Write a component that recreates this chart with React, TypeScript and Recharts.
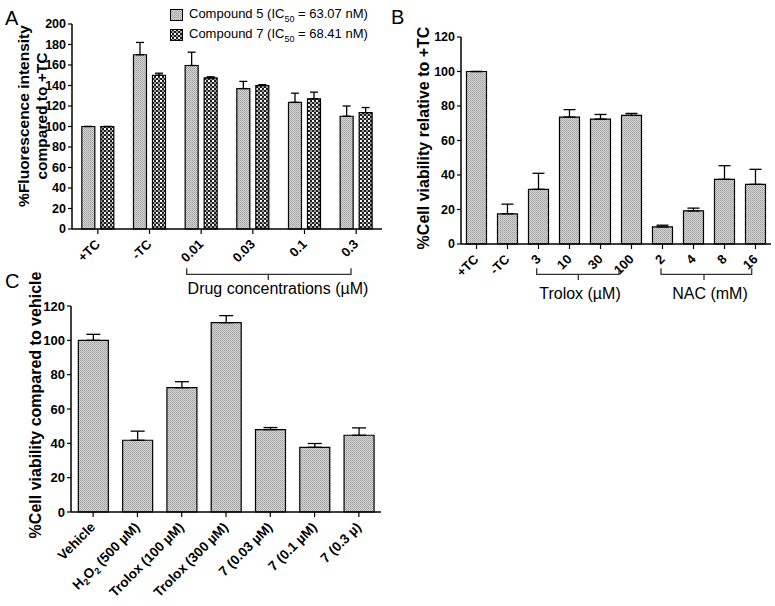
import React from 'react';
import { BarChart, Bar, XAxis, YAxis, ErrorBar, Legend } from 'recharts';

const FONT = '"Liberation Sans", Arial, Helvetica, sans-serif';

// Panel A
const fluorCategories = ['+TC', '-TC', '0.01', '0.03', '0.1', '0.3'];
const compound5Values = [100, 170, 159.5, 137, 123.5, 110];
const compound5Errors = [0, 12, 13, 7, 9, 10];
const compound7Values = [100, 150, 147.5, 140, 127, 113.5];
const compound7Errors = [0, 2, 1, 0.8, 6.5, 5];
const fluorTicks = [0, 20, 40, 60, 80, 100, 120, 140, 160, 180, 200];

// Panel B
const viabilityCategories = ['+TC', '-TC', '3', '10', '30', '100', '2', '4', '8', '16'];
const viabilityValues = [100, 17.5, 31.7, 73.6, 72.4, 74.6, 9.9, 19.2, 37.5, 34.6];
const viabilityErrors = [0, 5.6, 9.3, 4.3, 2.7, 1.1, 1, 1.6, 7.9, 8.7];
const viabilityTicks = [0, 20, 40, 60, 80, 100, 120];

// Panel C
const vehicleCategories = ['Vehicle', 'H2O2 (500 µM)', 'Trolox (100 µM)', 'Trolox (300 µM)', '7 (0.03 µM)', '7 (0.1 µM)', '7 (0.3 µ)'];
const vehicleValues = [100, 41.8, 72.4, 110.3, 48, 37.7, 44.7];
const vehicleErrors = [3.5, 5.3, 3.5, 4.1, 1.2, 2.2, 4.3];
const vehicleTicks = [0, 20, 40, 60, 80, 100, 120];

const fluorData = fluorCategories.map((name, i) => ({
  name,
  c5: compound5Values[i],
  c5err: [0, compound5Errors[i]],
  c7: compound7Values[i],
  c7err: [0, compound7Errors[i]],
}));

const viabilityData = viabilityCategories.map((name, i) => ({
  name,
  value: viabilityValues[i],
  err: [0, viabilityErrors[i]],
}));

const vehicleData = vehicleCategories.map((name, i) => ({
  name,
  value: vehicleValues[i],
  err: [0, vehicleErrors[i]],
}));

const tickStyle = { fontSize: 12.5, fontWeight: 'bold' as const, fill: '#000', fontFamily: FONT };
const axisLine = { stroke: '#000', strokeWidth: 1.5 };
const tickLine = { stroke: '#000', strokeWidth: 1.2 };

const Patterns = ({ id }: { id: string }) => (
  <defs>
    <pattern id={`light-${id}`} width={2} height={2} patternUnits="userSpaceOnUse">
      <rect width={2} height={2} fill="#d4d4d4" />
      <rect x={0} y={0} width={1} height={1} fill="#a0a0a0" />
      <rect x={1} y={1} width={1} height={1} fill="#b0b0b0" />
    </pattern>
    <pattern id={`check-${id}`} width={4} height={4} patternUnits="userSpaceOnUse">
      <rect width={4} height={4} fill="#1e1e1e" />
      <rect x={0} y={0} width={2} height={2} fill="#f2f2f2" />
      <rect x={2} y={2} width={2} height={2} fill="#9a9a9a" />
    </pattern>
  </defs>
);

const makeTick = (fontSize: number) => (props: any) => {
  const { x, y, payload } = props;
  const label = String(payload.value);
  const isPeroxide = label.startsWith('H2O2');
  const sub = Math.round(fontSize * 0.7);
  return (
    <g transform={`translate(${x + 3},${y + 9})`}>
      <text textAnchor="end" transform="rotate(-45)" {...tickStyle} fontSize={fontSize}>
        {isPeroxide ? (
          <>
            H<tspan dy={3} fontSize={sub}>2</tspan>
            <tspan dy={-3}>O</tspan>
            <tspan dy={3} fontSize={sub}>2</tspan>
            <tspan dy={-3}>{label.slice(4)}</tspan>
          </>
        ) : (
          label
        )}
      </text>
    </g>
  );
};

const TickAB = makeTick(13);
const TickC = makeTick(13.5);

const legendItems = [
  { label: 'Compound 5', ic: '63.07', fill: 'url(#light-a)' },
  { label: 'Compound 7', ic: '68.41', fill: 'url(#check-a)' },
];

const renderFluorLegend = () => (
  <div style={{ fontFamily: FONT, fontSize: 13, color: '#000' }}>
    {legendItems.map((item) => (
      <div key={item.label} style={{ display: 'flex', alignItems: 'center', height: 20 }}>
        <svg width={13} height={12} style={{ marginRight: 6 }}>
          <rect x={0.5} y={0.5} width={12} height={11} fill={item.fill} stroke="#000" strokeWidth={1} />
        </svg>
        <span>
          {item.label} (IC<sub style={{ fontSize: 9 }}>50</sub> = {item.ic} nM)
        </span>
      </div>
    ))}
  </div>
);

const PanelA = () => (
  <BarChart
    width={390}
    height={300}
    data={fluorData}
    margin={{ top: 24, right: 8, bottom: 31, left: 0 }}
    barCategoryGap="19%"
    barGap={6}
  >
    <Patterns id="a" />
    <XAxis dataKey="name" height={40} interval={0} axisLine={axisLine} tickLine={tickLine} tickSize={5} tickMargin={2} tick={<TickAB />} />
    <YAxis width={72} domain={[0, 200]} ticks={fluorTicks} interval={0} axisLine={axisLine} tickLine={tickLine} tickSize={4} tickMargin={2} tick={tickStyle} />
    <Legend
      layout="vertical"
      align="center"
      verticalAlign="middle"
      content={renderFluorLegend}
      wrapperStyle={{ top: 5, left: 170, width: 215 }}
    />
    <Bar dataKey="c5" fill="url(#light-a)" stroke="#000" strokeWidth={1.2} isAnimationActive={false}>
      <ErrorBar dataKey="c5err" width={4} stroke="#000" strokeWidth={1.3} direction="y" />
    </Bar>
    <Bar dataKey="c7" fill="url(#check-a)" stroke="#000" strokeWidth={1.2} isAnimationActive={false}>
      <ErrorBar dataKey="c7err" width={4} stroke="#000" strokeWidth={1.3} direction="y" />
    </Bar>
  </BarChart>
);

const PanelB = () => (
  <BarChart
    width={385}
    height={300}
    data={viabilityData}
    margin={{ top: 37, right: 4, bottom: 16, left: 0 }}
    barCategoryGap="17.7%"
  >
    <Patterns id="b" />
    <XAxis dataKey="name" height={40} interval={0} axisLine={axisLine} tickLine={tickLine} tickSize={5} tickMargin={2} tick={<TickAB />} />
    <YAxis width={71} domain={[0, 120]} ticks={viabilityTicks} interval={0} axisLine={axisLine} tickLine={tickLine} tickSize={4} tickMargin={2} tick={tickStyle} />
    <Bar dataKey="value" fill="url(#light-b)" stroke="#000" strokeWidth={1.2} isAnimationActive={false}>
      <ErrorBar dataKey="err" width={6} stroke="#000" strokeWidth={1.3} direction="y" />
    </Bar>
  </BarChart>
);

const PanelC = () => (
  <BarChart
    width={400}
    height={316}
    data={vehicleData}
    margin={{ top: 16, right: 19, bottom: 34, left: 0 }}
    barCategoryGap="16.6%"
  >
    <Patterns id="c" />
    <XAxis dataKey="name" height={60} interval={0} axisLine={axisLine} tickLine={tickLine} tickSize={5} tickMargin={2} tick={<TickC />} />
    <YAxis width={71} domain={[0, 120]} ticks={vehicleTicks} interval={0} axisLine={axisLine} tickLine={tickLine} tickSize={4} tickMargin={2} tick={{ ...tickStyle, fontSize: 13 }} />
    <Bar dataKey="value" fill="url(#light-c)" stroke="#000" strokeWidth={1.2} isAnimationActive={false}>
      <ErrorBar dataKey="err" width={7} stroke="#000" strokeWidth={1.3} direction="y" />
    </Bar>
  </BarChart>
);

const bracketStroke = { stroke: '#333', strokeWidth: 1.3, fill: 'none' };

const Annotations = () => (
  <svg width={775} height={606} style={{ position: 'absolute', left: 0, top: 0, pointerEvents: 'none' }} fontFamily={FONT}>
    <text x={5} y={25} fontSize={20} fill="#000">A</text>
    <text x={391} y={24} fontSize={20} fill="#000">B</text>
    <text x={5} y={288} fontSize={20} fill="#000">C</text>

    <text transform="translate(29,116) rotate(-90)" textAnchor="middle" fontSize={15.5} fontWeight="bold" fill="#000">%Fluorescence intensity</text>
    <text transform="translate(47,116) rotate(-90)" textAnchor="middle" fontSize={15.5} fontWeight="bold" fill="#000">compared to +TC</text>
    <text transform="translate(429,138) rotate(-90)" textAnchor="middle" fontSize={16} fontWeight="bold" fill="#000">%Cell viability relative to +TC</text>
    <text transform="translate(41,405) rotate(-90)" textAnchor="middle" fontSize={16} fontWeight="bold" fill="#000">%Cell viability compared to vehicle</text>

    <path d="M186.7,268.3 V274.3 H351 V268.3 M268.3,274.3 V280" {...bracketStroke} />
    <text x={278} y={293.5} textAnchor="middle" fontSize={16} fill="#000">Drug concentrations (µM)</text>

    <path d="M536.7,268.3 V274.3 H619 V268.3 M578.3,274.3 V280" {...bracketStroke} />
    <text x={580} y={299} textAnchor="middle" fontSize={16} fill="#000">Trolox (µM)</text>

    <path d="M661,268.3 V274.3 H751.7 V268.3 M704,274.3 V280" {...bracketStroke} />
    <text x={710} y={299} textAnchor="middle" fontSize={16} fill="#000">NAC (mM)</text>
  </svg>
);

export default function App() {
  return (
    <div style={{ position: 'absolute', left: 0, top: 0, width: 775, height: 606, background: '#fff', fontFamily: FONT }}>
      <div style={{ position: 'absolute', left: 0, top: 0 }}>
        <PanelA />
      </div>
      <div style={{ position: 'absolute', left: 390, top: 0 }}>
        <PanelB />
      </div>
      <div style={{ position: 'absolute', left: 0, top: 290 }}>
        <PanelC />
      </div>
      <Annotations />
    </div>
  );
}
